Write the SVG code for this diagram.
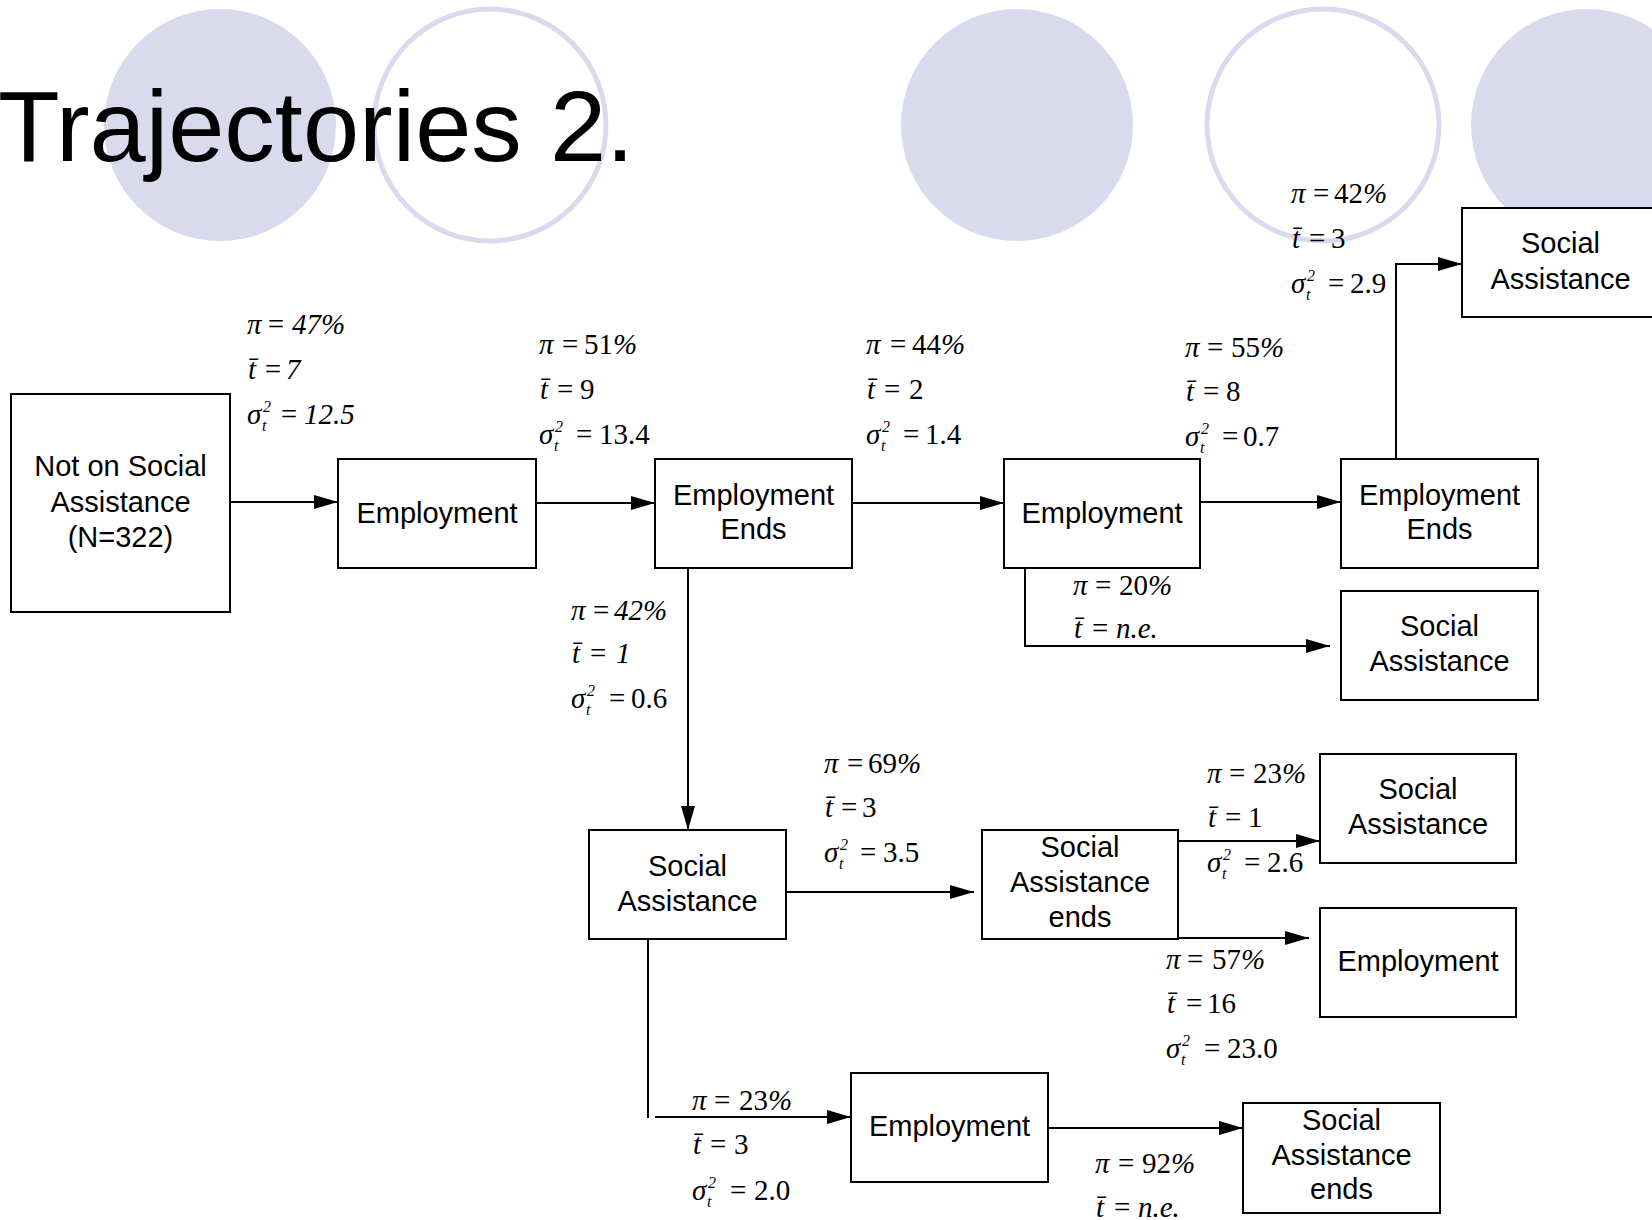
<svg xmlns="http://www.w3.org/2000/svg" width="1652" height="1220" viewBox="0 0 1652 1220">
<defs>
<style>
.bg{fill:#DADAEE}
.ring{fill:none;stroke:#DADAEE;stroke-width:5}
.box{fill:#fff;stroke:#000;stroke-width:2}
.bt{font-family:"Liberation Sans",Arial,sans-serif;font-size:29px;text-anchor:middle;fill:#000}
.title{font-family:"Liberation Sans",Arial,sans-serif;font-size:101px;fill:#000}
.lb{font-family:"Liberation Serif","Times New Roman",serif;font-size:29px;fill:#000}
.it{font-style:italic}
.sm{font-size:16px}
.conn{fill:none;stroke:#000;stroke-width:2}
.arr{marker-end:url(#ah)}
</style>
<marker id="ah" markerUnits="userSpaceOnUse" markerWidth="24" markerHeight="14" refX="24" refY="7" orient="auto">
<path d="M0,0 L24,7 L0,14 z" fill="#000"/>
</marker>
</defs>
<rect width="1652" height="1220" fill="#fff"/>
<g id="decor">
<circle class="bg" cx="220" cy="125" r="116"/>
<circle class="ring" cx="490" cy="125" r="116"/>
<circle class="bg" cx="1017" cy="125" r="116"/>
<circle class="ring" cx="1323" cy="125" r="116"/>
<circle class="bg" cx="1587" cy="125" r="116"/>
</g>
<text id="title" class="title" x="-2" y="161">Trajectories 2.</text>

<g id="connectors">
<line class="conn arr" x1="230" y1="502" x2="338" y2="502"/>
<line class="conn arr" x1="536" y1="503" x2="655" y2="503"/>
<line class="conn arr" x1="852" y1="503" x2="1004" y2="503"/>
<line class="conn arr" x1="1200" y1="502" x2="1341" y2="502"/>
<polyline class="conn arr" points="1396,459 1396,264 1462,264"/>
<polyline class="conn arr" points="1025,568 1025,646 1330,646"/>
<line class="conn arr" x1="688" y1="568" x2="688" y2="830"/>
<line class="conn arr" x1="786" y1="892" x2="974" y2="892"/>
<line class="conn arr" x1="1178" y1="841" x2="1320" y2="841"/>
<line class="conn arr" x1="1178" y1="938" x2="1309" y2="938"/>
<line class="conn" x1="648" y1="939" x2="648" y2="1118"/>
<line class="conn arr" x1="655" y1="1117" x2="851" y2="1117"/>
<line class="conn arr" x1="1048" y1="1128" x2="1243" y2="1128"/>
</g>

<g id="n-start"><rect class="box" x="11" y="394" width="219" height="218"/>
<text class="bt" x="120.5" y="476">Not on Social</text><text class="bt" x="120.5" y="512">Assistance</text><text class="bt" x="120.5" y="547">(N=322)</text></g>
<g id="n-emp1"><rect class="box" x="338" y="459" width="198" height="109"/><text class="bt" x="437" y="523">Employment</text></g>
<g id="n-ends1"><rect class="box" x="655" y="459" width="197" height="109"/><text class="bt" x="753.5" y="505">Employment</text><text class="bt" x="753.5" y="539">Ends</text></g>
<g id="n-emp2"><rect class="box" x="1004" y="459" width="196" height="109"/><text class="bt" x="1102" y="523">Employment</text></g>
<g id="n-ends2"><rect class="box" x="1341" y="459" width="197" height="109"/><text class="bt" x="1439.5" y="505">Employment</text><text class="bt" x="1439.5" y="539">Ends</text></g>
<g id="n-sa-top"><rect class="box" x="1462" y="208" width="197" height="109"/><text class="bt" x="1560.5" y="253">Social</text><text class="bt" x="1560.5" y="289">Assistance</text></g>
<g id="n-sa-mid"><rect class="box" x="1341" y="591" width="197" height="109"/><text class="bt" x="1439.5" y="636">Social</text><text class="bt" x="1439.5" y="671">Assistance</text></g>
<g id="n-sa1"><rect class="box" x="589" y="830" width="197" height="109"/><text class="bt" x="687.5" y="876">Social</text><text class="bt" x="687.5" y="911">Assistance</text></g>
<g id="n-saends1"><rect class="box" x="982" y="830" width="196" height="109"/><text class="bt" x="1080" y="857">Social</text><text class="bt" x="1080" y="892">Assistance</text><text class="bt" x="1080" y="927">ends</text></g>
<g id="n-sa2"><rect class="box" x="1320" y="754" width="196" height="109"/><text class="bt" x="1418" y="799">Social</text><text class="bt" x="1418" y="834">Assistance</text></g>
<g id="n-emp3"><rect class="box" x="1320" y="908" width="196" height="109"/><text class="bt" x="1418" y="971">Employment</text></g>
<g id="n-emp4"><rect class="box" x="851" y="1073" width="197" height="109"/><text class="bt" x="949.5" y="1136">Employment</text></g>
<g id="n-saends2"><rect class="box" x="1243" y="1103" width="197" height="110"/><text class="bt" x="1341.5" y="1130">Social</text><text class="bt" x="1341.5" y="1165">Assistance</text><text class="bt" x="1341.5" y="1199">ends</text></g>

<g id="labels">
<!-- L1 -->
<text class="lb it" y="334"><tspan x="247">π</tspan><tspan x="266">=</tspan><tspan x="292">47%</tspan></text>
<text class="lb it" y="379"><tspan x="248">t̄</tspan><tspan x="263">=</tspan><tspan x="286">7</tspan></text>
<text class="lb" y="424"><tspan class="it" x="247">σ</tspan><tspan class="it sm" x="263" dy="-12">2</tspan><tspan class="it sm" x="262" dy="19">t</tspan><tspan class="it" x="279" dy="-7">=</tspan><tspan class="it" x="304">12.5</tspan></text>
<!-- L2 -->
<text class="lb" y="354"><tspan class="it" x="539">π</tspan><tspan x="562">=</tspan><tspan x="584">51<tspan class="it">%</tspan></tspan></text>
<text class="lb" y="399"><tspan class="it" x="540">t̄</tspan><tspan x="557">=</tspan><tspan x="580">9</tspan></text>
<text class="lb" y="444"><tspan class="it" x="539">σ</tspan><tspan class="it sm" x="555" dy="-12">2</tspan><tspan class="it sm" x="554" dy="19">t</tspan><tspan x="576" dy="-7">=</tspan><tspan x="599">13.4</tspan></text>
<!-- L3 -->
<text class="lb" y="354"><tspan class="it" x="866">π</tspan><tspan x="890">=</tspan><tspan x="912">44<tspan class="it">%</tspan></tspan></text>
<text class="lb" y="399"><tspan class="it" x="867">t̄</tspan><tspan x="884">=</tspan><tspan x="909">2</tspan></text>
<text class="lb" y="444"><tspan class="it" x="866">σ</tspan><tspan class="it sm" x="882" dy="-12">2</tspan><tspan class="it sm" x="881" dy="19">t</tspan><tspan x="903" dy="-7">=</tspan><tspan x="925">1.4</tspan></text>
<!-- L4 -->
<text class="lb" y="357"><tspan class="it" x="1185">π</tspan><tspan x="1207">=</tspan><tspan x="1231">55<tspan class="it">%</tspan></tspan></text>
<text class="lb" y="401"><tspan class="it" x="1186">t̄</tspan><tspan x="1203">=</tspan><tspan x="1226">8</tspan></text>
<text class="lb" y="446"><tspan class="it" x="1185">σ</tspan><tspan class="it sm" x="1201" dy="-12">2</tspan><tspan class="it sm" x="1200" dy="19">t</tspan><tspan x="1222" dy="-7">=</tspan><tspan x="1243">0.7</tspan></text>
<!-- L5 -->
<text class="lb" y="203"><tspan class="it" x="1291">π</tspan><tspan x="1313">=</tspan><tspan x="1334">42<tspan class="it">%</tspan></tspan></text>
<text class="lb" y="248"><tspan class="it" x="1292">t̄</tspan><tspan x="1309">=</tspan><tspan x="1331">3</tspan></text>
<text class="lb" y="293"><tspan class="it" x="1291">σ</tspan><tspan class="it sm" x="1307" dy="-12">2</tspan><tspan class="it sm" x="1306" dy="19">t</tspan><tspan x="1328" dy="-7">=</tspan><tspan x="1350">2.9</tspan></text>
<!-- L6 -->
<text class="lb" y="620"><tspan class="it" x="571">π</tspan><tspan x="593">=</tspan><tspan class="it" x="614">42%</tspan></text>
<text class="lb" y="663"><tspan class="it" x="572">t̄</tspan><tspan x="590">=</tspan><tspan class="it" x="616">1</tspan></text>
<text class="lb" y="708"><tspan class="it" x="571">σ</tspan><tspan class="it sm" x="587" dy="-12">2</tspan><tspan class="it sm" x="586" dy="19">t</tspan><tspan x="609" dy="-7">=</tspan><tspan x="631">0.6</tspan></text>
<!-- L7 -->
<text class="lb" y="595"><tspan class="it" x="1073">π</tspan><tspan x="1095">=</tspan><tspan x="1119">20<tspan class="it">%</tspan></tspan></text>
<text class="lb" y="638"><tspan class="it" x="1074">t̄</tspan><tspan x="1092">=</tspan><tspan class="it" x="1116">n.e.</tspan></text>
<!-- L8 -->
<text class="lb" y="773"><tspan class="it" x="824">π</tspan><tspan x="847">=</tspan><tspan x="868">69<tspan class="it">%</tspan></tspan></text>
<text class="lb" y="817"><tspan class="it" x="825">t̄</tspan><tspan x="841">=</tspan><tspan x="862">3</tspan></text>
<text class="lb" y="862"><tspan class="it" x="824">σ</tspan><tspan class="it sm" x="840" dy="-12">2</tspan><tspan class="it sm" x="839" dy="19">t</tspan><tspan x="860" dy="-7">=</tspan><tspan x="883">3.5</tspan></text>
<!-- L9 -->
<text class="lb" y="783"><tspan class="it" x="1207">π</tspan><tspan x="1229">=</tspan><tspan x="1253">23<tspan class="it">%</tspan></tspan></text>
<text class="lb" y="827"><tspan class="it" x="1208">t̄</tspan><tspan x="1225">=</tspan><tspan x="1248">1</tspan></text>
<text class="lb" y="872"><tspan class="it" x="1207">σ</tspan><tspan class="it sm" x="1223" dy="-12">2</tspan><tspan class="it sm" x="1222" dy="19">t</tspan><tspan x="1244" dy="-7">=</tspan><tspan x="1267">2.6</tspan></text>
<!-- L10 -->
<text class="lb" y="969"><tspan class="it" x="1166">π</tspan><tspan x="1187">=</tspan><tspan x="1212">57<tspan class="it">%</tspan></tspan></text>
<text class="lb" y="1013"><tspan class="it" x="1167">t̄</tspan><tspan x="1186">=</tspan><tspan x="1207">16</tspan></text>
<text class="lb" y="1058"><tspan class="it" x="1166">σ</tspan><tspan class="it sm" x="1182" dy="-12">2</tspan><tspan class="it sm" x="1181" dy="19">t</tspan><tspan x="1204" dy="-7">=</tspan><tspan x="1227">23.0</tspan></text>
<!-- L11 -->
<text class="lb" y="1110"><tspan class="it" x="692">π</tspan><tspan x="714">=</tspan><tspan x="739">23<tspan class="it">%</tspan></tspan></text>
<text class="lb" y="1154"><tspan class="it" x="693">t̄</tspan><tspan x="710">=</tspan><tspan x="734">3</tspan></text>
<text class="lb" y="1200"><tspan class="it" x="692">σ</tspan><tspan class="it sm" x="708" dy="-12">2</tspan><tspan class="it sm" x="707" dy="19">t</tspan><tspan x="730" dy="-7">=</tspan><tspan x="754">2.0</tspan></text>
<!-- L12 -->
<text class="lb" y="1173"><tspan class="it" x="1095">π</tspan><tspan x="1118">=</tspan><tspan x="1142">92<tspan class="it">%</tspan></tspan></text>
<text class="lb" y="1217"><tspan class="it" x="1096">t̄</tspan><tspan x="1114">=</tspan><tspan class="it" x="1138">n.e.</tspan></text>
</g>
</svg>
